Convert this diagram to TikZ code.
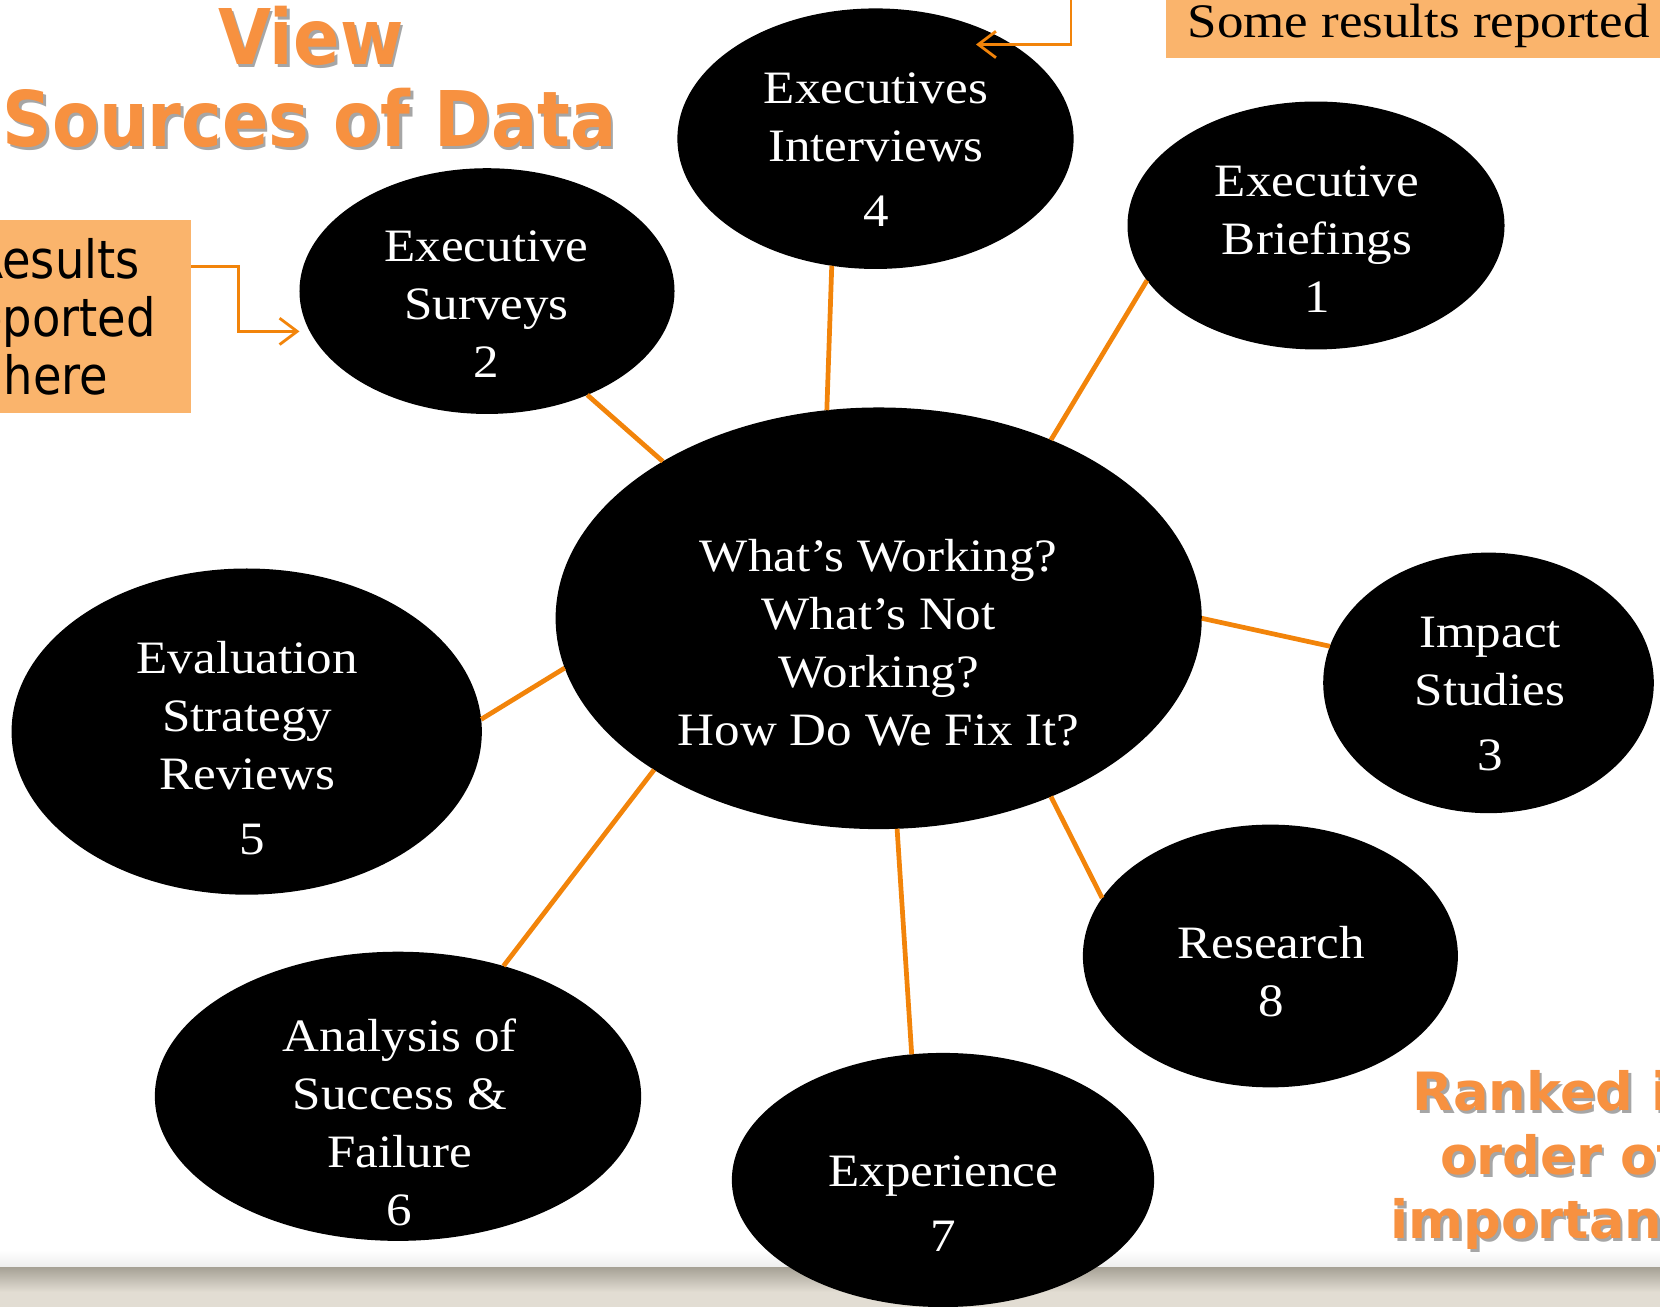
\documentclass[tikz,border=0pt]{standalone}
\usepackage{fontspec}
\setmainfont{Liberation Serif}
\newfontfamily\blobfont[FakeStretch=1.1]{Liberation Serif}
\newfontfamily\headfont{DejaVu Sans}
\newfontfamily\notefont[FakeStretch=0.88]{DejaVu Sans}
\usetikzlibrary{arrows.meta,shapes.geometric}

\definecolor{linkorange}{RGB}{242,132,10}
\definecolor{headorange}{RGB}{247,145,64}
\definecolor{notefill}{RGB}{250,180,108}
\definecolor{stripbeige}{RGB}{226,221,211}
\definecolor{stripshade}{RGB}{168,163,151}

\newcommand{\tallhead}[1]{\scalebox{1}[1.12]{#1}}

\begin{document}
\begin{tikzpicture}[x=0.01cm,y=-0.01cm,
  blob/.style={ellipse, fill=black, draw=none, inner sep=0pt, outer sep=0pt},
  blobtext/.style={text=white, align=center, inner sep=0pt,
    font=\blobfont\fontsize{13.2}{16.5}\selectfont},
  link/.style={draw=linkorange, line width=1.35pt},
  callarrow/.style={draw=linkorange, line width=0.8pt,
    -{Straight Barb[length=5pt,width=7.5pt]}},
  notebox/.style={rectangle, fill=notefill, draw=none, inner sep=0pt, align=center},
  headtext/.style={text=headorange, inner sep=0pt,
    font=\headfont\bfseries\fontsize{19.5}{23}\selectfont},
  headshadow/.style={text=black, opacity=0.35, inner sep=0pt,
    font=\headfont\bfseries\fontsize{19.5}{23}\selectfont},
  ranktext/.style={text=headorange, inner sep=0pt, align=center,
    font=\headfont\bfseries\fontsize{15}{18.2}\selectfont},
  rankshadow/.style={text=black, opacity=0.35, inner sep=0pt, align=center,
    font=\headfont\bfseries\fontsize{15}{18.2}\selectfont}]

\useasboundingbox (0,0) rectangle (1660,1307);
\clip (0,0) rectangle (1660,1307);

% slide footer band
\shade[top color=white, bottom color=black!7] (0,1250) rectangle (1660,1268);
\fill[stripbeige] (0,1268) rectangle (1660,1310);
\shade[top color=stripshade, bottom color=stripbeige] (0,1268) rectangle (1660,1292);

% title
\node[headshadow, anchor=base] (viewS) at (313.2,67.5) {\tallhead{View}};
\node[headtext, anchor=base] (view) at (310.7,65) {\tallhead{View}};
\node[headshadow, anchor=base] (sourcesS) at (312.2,149.5) {\tallhead{Sources of Data}};
\node[headtext, anchor=base] (sources) at (309.7,147) {\tallhead{Sources of Data}};

% ranking note
\node[rankshadow] (rankS) at (1562.5,1162.5) {Ranked in\\order of\\importance};
\node[ranktext] (rank) at (1560,1160) {Ranked in\\order of\\importance};

% ellipses
\node[blob, minimum width=6.458cm, minimum height=4.214cm] (hub) at (878.7,618.3) {};
\node[blob, minimum width=3.96cm, minimum height=2.604cm] (interviews) at (875.5,138.7) {};
\node[blob, minimum width=3.768cm, minimum height=2.478cm] (briefings) at (1316,225.5) {};
\node[blob, minimum width=3.748cm, minimum height=2.456cm] (surveys) at (487,291.1) {};
\node[blob, minimum width=3.304cm, minimum height=2.604cm] (impact) at (1488.5,682.9) {};
\node[blob, minimum width=4.70cm, minimum height=3.26cm] (evaluation) at (246.7,731.6) {};
\node[blob, minimum width=4.86cm, minimum height=2.89cm] (analysis) at (398,1096.3) {};
\node[blob, minimum width=3.748cm, minimum height=2.626cm] (research) at (1270.4,956) {};
\node[blob, minimum width=4.22cm, minimum height=2.54cm] (experience) at (943,1180) {};

% labels
\node[blobtext] (hub-t) at (878.7,642.6) {What’s Working?\\What’s Not\\Working?\\How Do We Fix It?};
\node[blobtext] (interviews-t) at (876,149.8) {Executives\\Interviews\\[2pt]4};
\node[blobtext] (briefings-t) at (1317,238.7) {Executive\\Briefings\\1};
\node[blobtext] (surveys-t) at (486.5,304.4) {Executive\\Surveys\\2};
\node[blobtext] (impact-t) at (1490,694) {Impact\\Studies\\[2pt]3};
\node[blobtext] (evaluation-t) at (247.2,748.5) {Evaluation\\Strategy\\Reviews\\[2pt]\hspace*{3pt}5};
\node[blobtext] (analysis-t) at (399.7,1122.2) {Analysis of\\Success \&\\Failure\\6};
\node[blobtext] (research-t) at (1271,971.4) {Research\\8};
\node[blobtext] (experience-t) at (943.3,1203.2) {Experience\\[2pt]7};

% spokes
\draw[link] (hub.144.1) -- (surveys.-46.5);
\draw[link] (hub.104.6) -- (interviews.251);
\draw[link] (hub.46.6) -- (briefings.198.4);
\draw[link] (hub.0.2) -- (impact.167.3);
\draw[link] (hub.189.4) -- (evaluation.3.6);
\draw[link] (hub.214.5) -- (analysis.51.9);
\draw[link] (hub.275.2) -- (experience.104.6);
\draw[link] (hub.-46.9) -- (research.161.1);

% callouts
\node[notebox, minimum width=2.692cm, minimum height=1.927cm,
  font=\notefont\fontsize{15}{16.5}\selectfont] (leftnote) at (56,316.5)
  {Results\\reported\\here};
\node[notebox, minimum width=5.04cm, minimum height=0.648cm,
  font=\blobfont\fontsize{13.7}{16}\selectfont] (topnote) at (1418.6,25.8)
  {Some results reported};

\draw[callarrow] (leftnote.east |- 0,266.8) -- (238.2,266.8) |- (surveys.west |- 0,331.4);
\coordinate (feedtop) at (1071,-5);
\coordinate (feedtip) at (976,44.5);
\draw[callarrow] (feedtop) |- (feedtip);

\end{tikzpicture}
\end{document}
